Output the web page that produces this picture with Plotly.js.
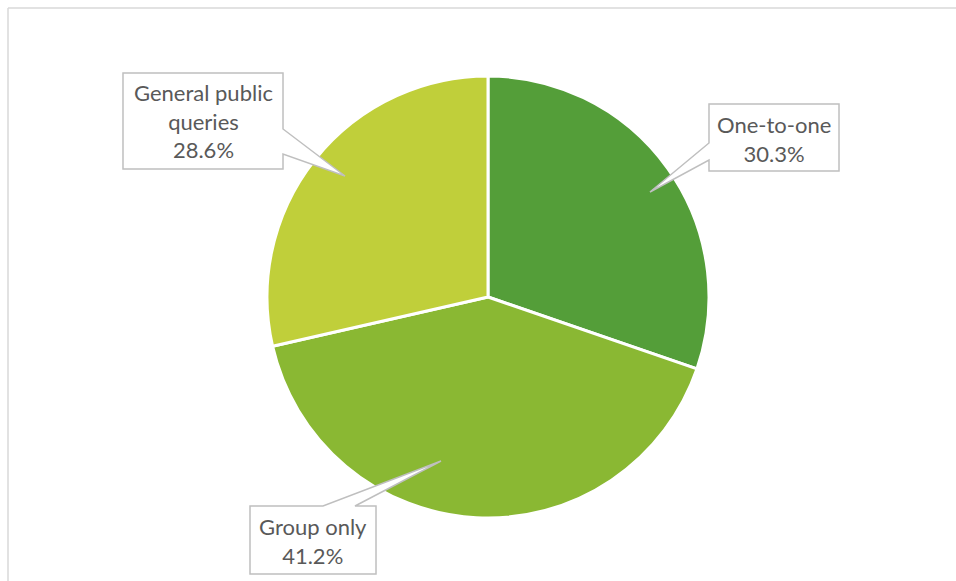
<!DOCTYPE html>
<html>
<head>
<meta charset="utf-8">
<script src="https://cdn.plot.ly/plotly-3.0.1.min.js"></script>
<style>html,body{margin:0;padding:0;background:#fff;}#chart{width:956px;height:581px;}</style>
</head>
<body>
<div id="chart"></div>
<script>
// ---- data ----
const categories = ["One-to-one", "Group only", "General public queries"];
const values = [30.3, 41.2, 28.6];
const labelLines = ["One-to-one", "Group only", "General public<br>queries"];
const sliceColors = ["#549E39", "#8AB833", "#C0CF3A"];

// ---- layout helpers (pixel -> paper) ----
const W = 956, H = 581;
const px = x => x / W;
const py = y => 1 - y / H;

// callout geometry (style only): box, pointer base and tip, text centre
const callouts = [
  {box:[709,104,839,171], ptr:{side:"left", a:143, b:160}, tip:[650,192], text:[774,139]},
  {box:[250,506,376,574], ptr:{side:"top", a:323, b:355}, tip:[441,461], text:[313,541]},
  {box:[123,73,283,169], ptr:{side:"right", a:129, b:154}, tip:[345,176], text:[203,121]}
];

function calloutPath(c) {
  const [l,t,r,b] = c.box, p = c.ptr, [tx,ty] = c.tip;
  let pts;
  if (p.side === "left") {
    pts = [[l,t],[r,t],[r,b],[l,b],[l,p.b],[tx,ty],[l,p.a]];
  } else if (p.side === "right") {
    pts = [[l,t],[r,t],[r,p.a],[tx,ty],[r,p.b],[r,b],[l,b]];
  } else { // top
    pts = [[l,t],[p.a,t],[tx,ty],[p.b,t],[r,t],[r,b],[l,b]];
  }
  return "M" + pts.map(q => px(q[0]).toFixed(5) + "," + py(q[1]).toFixed(5)).join(" L") + " Z";
}

const shapes = [
  {type:"line", xref:"paper", yref:"paper", x0:px(8), x1:px(956), y0:py(8), y1:py(8), line:{color:"#D9D9D9", width:1.5}},
  {type:"line", xref:"paper", yref:"paper", x0:px(8), x1:px(8), y0:py(8), y1:py(581), line:{color:"#D9D9D9", width:1.5}}
];
callouts.forEach(c => shapes.push({
  type:"path", xref:"paper", yref:"paper", path: calloutPath(c),
  fillcolor:"#FFFFFF", line:{color:"#BFBFBF", width:1.5}, layer:"above"
}));

const annotations = categories.map((cat, i) => ({
  xref:"paper", yref:"paper",
  x: px(callouts[i].text[0]), y: py(callouts[i].text[1]),
  xanchor:"center", yanchor:"middle",
  text: labelLines[i] + "<br>" + values[i].toFixed(1) + "%",
  showarrow:false, align:"center",
  font:{family:"Lato, 'Open Sans', sans-serif", size:22, color:"#595959"}
}));

const cx = 488, cy = 297, R = 221;
const trace = {
  type:"pie",
  labels: categories,
  values: values,
  sort:false,
  direction:"clockwise",
  rotation:0,
  marker:{colors:sliceColors, line:{color:"#FFFFFF", width:3}},
  textinfo:"none",
  hoverinfo:"none",
  domain:{x:[px(cx-R), px(cx+R)], y:[py(cy+R), py(cy-R)]}
};

const layout = {
  width:W, height:H,
  margin:{l:0, r:0, t:0, b:0},
  paper_bgcolor:"#FFFFFF",
  showlegend:false,
  shapes: shapes,
  annotations: annotations
};

Plotly.newPlot("chart", [trace], layout, {displayModeBar:false, staticPlot:true});
</script>
</body>
</html>
